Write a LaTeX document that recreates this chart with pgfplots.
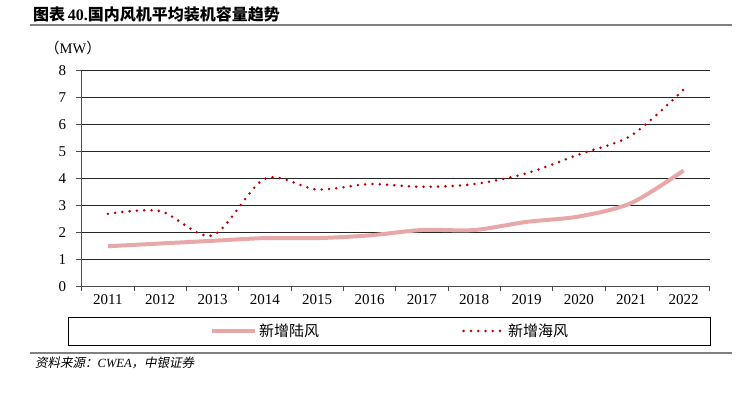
\documentclass[border=0pt]{standalone}
\usepackage{pgfplots}
\pgfplotsset{compat=1.18}
\usepackage{fontspec}
\setmainfont{Liberation Serif}
\newfontfamily\cjk{Noto Sans CJK SC}
\newfontfamily\cjkit[FakeSlant=0.2]{Noto Sans CJK SC}
\newfontfamily\serifit{Liberation Serif}
\definecolor{pinkline}{RGB}{232,168,168}
\definecolor{reddot}{RGB}{192,0,0}
\pgfplotsset{
  pinkleg/.style={legend image code/.code={\draw[##1] (0pt,0pt) -- (43pt,0pt);}},
  redleg/.style={legend image code/.code={\draw[##1] (0pt,0pt) -- (38pt,0pt);}},
}
\begin{document}
\begin{tikzpicture}[x=1pt,y=1pt]
\useasboundingbox (0,0) rectangle (738,392);
% title
\node[anchor=west,inner sep=0pt] at (33,377.5) {\fontsize{16}{18}\selectfont\cjk\bfseries 图表\,\rmfamily\bfseries 40.\cjk\bfseries 国内风机平均装机容量趋势};
\draw[gray,line width=1.2pt] (30,367) -- (732,367);
\node[anchor=west,inner sep=0pt] at (45,344.5) {\fontsize{14.5}{16}\selectfont\cjk （\rmfamily MW\cjk ）};
\begin{axis}[
  at={(81.7pt,105.3pt)}, anchor=south west,
  scale only axis, width=628pt, height=216pt,
  xmin=-0.5, xmax=11.5, ymin=0, ymax=8,
  ytick={0,...,8},
  xtick={0,...,11},
  xticklabels={2011,2012,2013,2014,2015,2016,2017,2018,2019,2020,2021,2022},
  minor xtick={-0.5,0.5,...,11.5},
  axis x line*=bottom, axis y line*=left,
  axis line style={-, black!70, line width=0.9pt},
  ymajorgrids, grid style={black!85, line width=0.8pt},
  tick align=outside,
  major tick length=6pt,
  minor tick length=4pt,
  x tick style={draw=none},
  minor x tick style={draw=black!70, line width=0.9pt},
  y tick style={black!70, line width=0.9pt},
  tick label style={font=\fontsize{15}{17}\selectfont},
  /pgf/number format/assume math mode=true,
  yticklabel style={xshift=-6pt},
  xticklabel style={yshift=2pt},
  legend style={at={(0.2043,-0.205)}, anchor=west, draw=none, fill=none,
    inner sep=0pt,
    font=\cjk\fontsize{15}{17}\selectfont,
    /tikz/every even column/.append style={column sep=141pt}},
  legend columns=2,
  legend cell align=left,
]
\addplot[pinkline, line width=4pt, smooth, tension=0.5, pinkleg]
  coordinates {(0,1.5) (1,1.6) (2,1.7) (3,1.8) (4,1.8) (5,1.9) (6,2.1) (7,2.1) (8,2.4) (9,2.6) (10,3.1) (11,4.3)};
\addlegendentry{新增陆风}
\addplot[reddot, line width=2.8pt, line cap=round, dash pattern=on 0pt off 7.3pt, smooth, tension=0.5, redleg]
  coordinates {(0,2.7) (1,2.8) (2,1.9) (3,4.0) (4,3.6) (5,3.8) (6,3.7) (7,3.8) (8,4.2) (9,4.9) (10,5.6) (11,7.3)};
\addlegendentry{\hspace{3pt}新增海风}
\end{axis}
\draw[black,line width=1pt] (68,75) rectangle (710,47);
\draw[gray,line width=1.2pt] (30,39) -- (732,39);
\node[anchor=west,inner sep=0pt] at (35,29) {\fontsize{12.5}{14}\selectfont\cjkit 资料来源：\serifit\itshape CWEA\cjkit ，中银证券};
\end{tikzpicture}
\end{document}
